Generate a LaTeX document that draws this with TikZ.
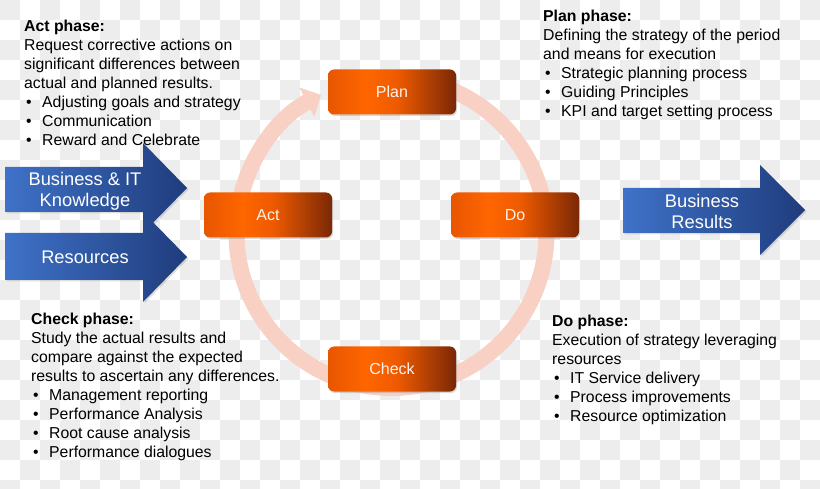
\documentclass[tikz,border=0pt]{standalone}
\usepackage{fontspec}
\setmainfont{Liberation Sans}
\usetikzlibrary{arrows.meta,shadows}
\definecolor{pdcaleft}{HTML}{E85600}
\definecolor{pdcaorange}{HTML}{FF6600}
\definecolor{pdcamid}{HTML}{EE5A00}
\definecolor{pdcabrown}{HTML}{7A2806}
\definecolor{pdcatext}{HTML}{FFF2EA}
\definecolor{ringpink}{HTML}{F9D1C4}
\definecolor{arrlight}{HTML}{3F72C8}
\definecolor{arrdark}{HTML}{1F3C7C}
\definecolor{chkgray}{HTML}{EDEDED}
\pgfdeclarehorizontalshading{pdcashade}{100bp}{color(0bp)=(pdcaleft); color(25bp)=(pdcaleft);
  color(40bp)=(pdcaorange); color(52bp)=(pdcamid); color(75bp)=(pdcabrown); color(100bp)=(pdcabrown)}
\tikzset{
  phase/.style={rounded corners=6pt, minimum width=128pt, minimum height=45pt, inner sep=0pt,
    shading=pdcashade, text=pdcatext,
    font=\fontsize{16}{19}\selectfont,
    drop shadow={shadow xshift=1pt, shadow yshift=-1.5pt, opacity=0.3}},
  note/.style={anchor=north west, inner sep=0pt, align=left, font=\fontsize{15.8}{19}\selectfont},
  bigarr/.style={left color=arrlight, right color=arrdark,
    drop shadow={shadow xshift=1.5pt, shadow yshift=-1.5pt, opacity=0.25}},
  arrlbl/.style={text=white, align=center, inner sep=0pt, font=\fontsize{18.3}{21}\selectfont},
  ring/.style={line width=16pt, draw=ringpink, -{Triangle[width=32pt,length=16pt]}},
}
\newcommand{\bul}{\hspace*{2pt}\makebox[16pt][l]{\textbullet}}

\begin{document}
\begin{tikzpicture}[x=1pt, y=1pt]
  \useasboundingbox (0,0) rectangle (820,488);
  % checkerboard background
  \begin{scope}
    \clip (0,0) rectangle (820,488);
    \foreach \i in {0,...,40}{
      \foreach \j in {0,...,24}{
        \pgfmathtruncatemacro\k{mod(\i+\j,2)}
        \ifnum\k=0 \fill[chkgray] (\i*20,488-\j*20) rectangle ++(20,-20);\fi
      }
    }
  \end{scope}

  % cycle
  \coordinate (ctr) at (391.5,255);
  \draw[ring] ([shift={(80:155pt)}]ctr) arc[start angle=80, end angle=-243, radius=155pt];

  \node[phase] (plan) at (392,396) {Plan};
  \node[phase] (act) at (268,273) {Act};
  \node[phase] (do) at (515,273) {Do};
  \node[phase] (check) at (392,119) {Check};

  % input / output arrows
  \shade[bigarr] (5,276) -- (143,276) -- (143,255) -- (187,300) -- (143,345) -- (143,321) -- (5,321) -- cycle;
  \shade[bigarr] (5,208) -- (143,208) -- (143,186) -- (187,231) -- (143,276) -- (143,255) -- (5,255) -- cycle;
  \shade[bigarr] (623,255) -- (760,255) -- (760,233) -- (805,278) -- (760,323) -- (760,300) -- (623,300) -- cycle;
  \node[arrlbl] (knowhow) at (85,297) {Business \& IT\\Knowledge};
  \node[arrlbl] (resources) at (85,231) {Resources};
  \node[arrlbl] (results) at (702,277) {Business\\Results};

  % phase notes
  \node[note] (actnote) at (24,467.7) {\textbf{Act phase:}\\Request corrective actions on\\significant differences between\\actual and planned results.\\\bul Adjusting goals and strategy\\\bul Communication\\\bul Reward and Celebrate};
  \node[note] (plannote) at (543,477.7) {\textbf{Plan phase:}\\Defining the strategy of the period\\and means for execution\\\bul Strategic planning process\\\bul Guiding Principles\\\bul KPI and target setting process};
  \node[note] (checknote) at (31,174.7) {\textbf{Check phase:}\\Study the actual results and\\compare against the expected\\results to ascertain any differences.\\\bul Management reporting\\\bul Performance Analysis\\\bul Root cause analysis\\\bul Performance dialogues};
  \node[note] (donote) at (552,172.7) {\textbf{Do phase:}\\Execution of strategy leveraging\\resources\\\bul IT Service delivery\\\bul Process improvements\\\bul Resource optimization};
\end{tikzpicture}
\end{document}
